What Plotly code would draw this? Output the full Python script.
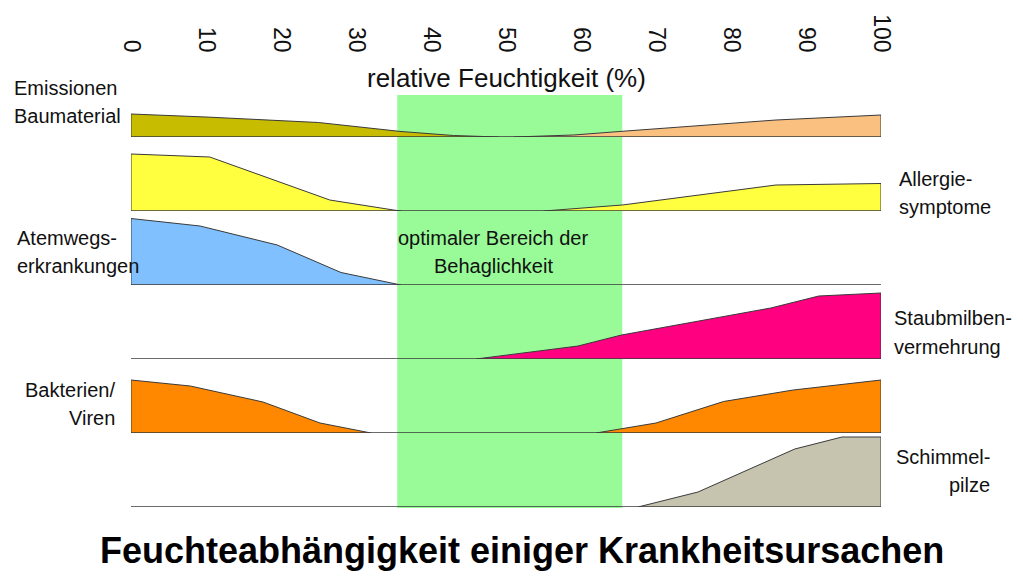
import plotly.graph_objects as go

# ---------------- data ----------------
x_ticks = [0, 10, 20, 30, 40, 50, 60, 70, 80, 90, 100]
tick_labels = ["0", "10", "20", "30", "40", "50", "60", "70", "80", "90", "100"]
comfort_range = [35.5, 65.5]

# Emissionen Baumaterial (two parts)
em_left_x = [0, 10, 25, 36, 43, 49]
em_left_y = [23, 20, 14.5, 5.5, 1.5, 0]
em_right_x = [51, 59, 66, 86, 100]
em_right_y = [0, 2, 6, 17, 22]

# Allergiesymptome
al_left_x = [0, 10.5, 18, 26.5, 35, 36]
al_left_y = [57, 54, 33.5, 11, 1, 0]
al_right_x = [55, 65.5, 86, 95.5, 100]
al_right_y = [0, 6, 26, 27, 27.5]

# Atemwegserkrankungen
at_x = [0, 9.2, 19.5, 28, 36]
at_y = [66.5, 59, 40, 12.5, 0]

# Staubmilbenvermehrung
st_x = [46, 59.6, 65.4, 85.3, 91.7, 100]
st_y = [0, 13, 24, 51, 63, 66]

# Bakterien / Viren
ba_left_x = [0, 7.9, 17.6, 25.2, 32]
ba_left_y = [53, 47, 31, 10, 0]
ba_right_x = [62, 70, 79, 88.3, 100]
ba_right_y = [0, 10, 31.5, 43, 53]

# Schimmelpilze
sc_x = [67.6, 75.6, 88.5, 94.8, 100]
sc_y = [0, 15, 58, 70, 70]

# ---------------- layout geometry ----------------
W, H = 1023, 582
L, R, T, B = 131, 881, 63, 507
N_ROWS = 6
ROW_RANGE = [0, 74]
FONT = "Liberation Sans, Arial, sans-serif"


def px(xp):
    return (xp - L) / (R - L)


def py(yp):
    return (B - yp) / (B - T)


def poly(xs, ys):
    return [xs[0]] + list(xs) + [xs[-1]], [0] + list(ys) + [0]


series = [
    (1, em_left_x, em_left_y, "#c8bc00"),
    (1, em_right_x, em_right_y, "#fac080"),
    (2, al_left_x, al_left_y, "#ffff40"),
    (2, al_right_x, al_right_y, "#ffff40"),
    (3, at_x, at_y, "#80c0ff"),
    (4, st_x, st_y, "#ff0080"),
    (5, ba_left_x, ba_left_y, "#ff8800"),
    (5, ba_right_x, ba_right_y, "#ff8800"),
    (6, sc_x, sc_y, "#c6c4ae"),
]

fig = go.Figure()
for row, xs, ys, col in series:
    pxs, pys = poly(xs, ys)
    fig.add_trace(go.Scatter(
        x=pxs, y=pys, mode="lines", fill="toself", fillcolor=col,
        line=dict(color="#3a3a3a", width=1),
        xaxis="x", yaxis="y" if row == 1 else f"y{row}",
        showlegend=False, hoverinfo="skip",
    ))

layout = dict(
    width=W, height=H,
    margin=dict(l=L, r=W - R, t=T, b=H - B),
    paper_bgcolor="white", plot_bgcolor="rgba(0,0,0,0)",
    showlegend=False,
    font=dict(family=FONT, color="#111"),
    xaxis=dict(
        range=[0, 100], side="top", anchor="y",
        tickmode="array", tickvals=x_ticks, ticktext=tick_labels,
        tickangle=90, ticks="", ticklabelstandoff=6,
        tickfont=dict(size=23, family=FONT, color="#111"),
        showgrid=False, zeroline=False, showline=False,
    ),
)
for i in range(1, N_ROWS + 1):
    key = "yaxis" if i == 1 else f"yaxis{i}"
    layout[key] = dict(
        domain=[1 - i / N_ROWS, 1 - (i - 1) / N_ROWS],
        range=ROW_RANGE, anchor="x", visible=False,
        showgrid=False, zeroline=False,
    )
fig.update_layout(**layout)

shapes = [dict(
    type="rect", xref="x", yref="paper",
    x0=comfort_range[0], x1=comfort_range[1], y0=py(508), y1=py(95),
    fillcolor="#98fb98", line=dict(width=0), layer="below",
)]
for i in range(1, N_ROWS + 1):
    shapes.append(dict(
        type="line", xref="x", yref="y" if i == 1 else f"y{i}",
        x0=0, x1=100, y0=0, y1=0,
        line=dict(color="#3a3a3a", width=1.5), layer="above",
    ))
fig.update_layout(shapes=shapes)

labels = [
    ("Emissionen", 12, 88, "left"),
    ("Baumaterial", 12, 116, "left"),
    ("Allergie-", 897, 179, "left"),
    ("symptome", 897, 207, "left"),
    ("Atemwegs-", 15, 238, "left"),
    ("erkrankungen", 15, 266, "left"),
    ("Staubmilben-", 892, 318, "left"),
    ("vermehrung", 892, 347, "left"),
    ("Bakterien/", 117, 390, "right"),
    ("Viren", 117, 418, "right"),
    ("Schimmel-", 992, 457, "right"),
    ("pilze", 992, 485, "right"),
    ("optimaler Bereich der", 493, 238, "center"),
    ("Behaglichkeit", 493, 266, "center"),
]
ann = []
for text, xp, yp, anchor in labels:
    ann.append(dict(
        text=text, xref="paper", yref="paper", x=px(xp), y=py(yp),
        xanchor=anchor, yanchor="middle", showarrow=False,
        font=dict(size=20, family=FONT, color="#111"),
    ))
ann.append(dict(
    text="relative Feuchtigkeit (%)", xref="paper", yref="paper",
    x=px(506), y=py(78), xanchor="center", yanchor="middle",
    showarrow=False, font=dict(size=26, family=FONT, color="#111"),
))
ann.append(dict(
    text="<b>Feuchteabhängigkeit einiger Krankheitsursachen</b>",
    xref="paper", yref="paper", x=px(522), y=py(550),
    xanchor="center", yanchor="middle", showarrow=False,
    font=dict(size=36, family=FONT, color="#000"),
))
fig.update_layout(annotations=ann)

fig.write_html("out.html")
